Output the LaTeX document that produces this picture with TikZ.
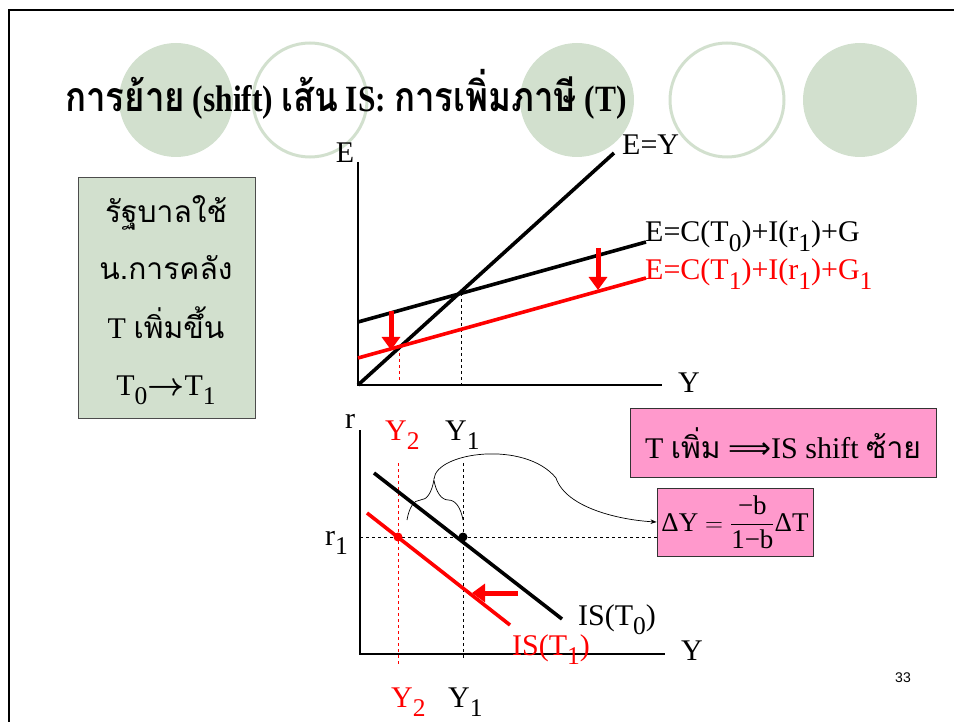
\documentclass[tikz,border=0pt]{standalone}
\usepackage{fontspec}
\usepackage{amsmath}
\usepackage{graphicx}
\setmainfont{Liberation Serif}
\newfontfamily\thaifont[Script=Thai]{Loma}
\newfontfamily\pagefont{Liberation Sans}
\newfontfamily\arrowfont{DejaVu Sans}
\usetikzlibrary{arrows.meta, positioning, decorations.pathreplacing}
\definecolor{sagebg}  {RGB}{210, 224, 206}
\definecolor{pinkbg}  {RGB}{255, 153, 204}
\definecolor{shiftred}{RGB}{255,   0,   0}
\newcommand{\lowsub}[1]{\raisebox{-0.33em}{\scalebox{0.85}{#1}}}

\begin{document}
\begin{tikzpicture}[x=1pt, y=-1pt, >=Stealth,
  deco/.style={circle, minimum size=114pt, inner sep=0pt},
  axis/.style={line width=1.2pt},
  curve/.style={line width=3.6pt},
  guide/.style={line width=0.8pt, dash pattern=on 3pt off 3pt},
  shiftarrow/.style={-{Triangle[length=13pt, width=18pt]}, line width=5pt, color=shiftred},
  lbl/.style={font=\fontsize{30}{32}\selectfont, inner sep=0pt},
  boxline/.style={font=\fontsize{30}{32}\selectfont, inner sep=0pt, anchor=base},
  infobox/.style={draw=black!80, line width=0.8pt, fill=pinkbg, inner sep=2pt}
]
  \useasboundingbox (0,0) rectangle (954,722);

  % Slide frame and circles
  \node[deco, fill=sagebg] (c1) at (176,100) {};
  \node[deco, draw=sagebg, line width=3pt] (c2) at (310,100) {};
  \node[deco, fill=sagebg] (c3) at (577,100) {};
  \node[deco, draw=sagebg, line width=3pt] (c4) at (727,100) {};
  \node[deco, fill=sagebg] (c5) at (860,100) {};
  \draw[line width=2.5pt] (956,10) -- (9,10) -- (9,724);

  % Title
  \node[anchor=base west, inner sep=0pt, font=\bfseries\fontsize{37}{40}\selectfont] (title) at (65,112)
    {\scalebox{0.85}[1]{{\thaifont\fontsize{41}{44}\selectfont การย้าย} (shift) {\thaifont\fontsize{41}{44}\selectfont เส้น} IS: {\thaifont\fontsize{41}{44}\selectfont การเพิ่มภาษี} (T)}};

  % Left box
  \node[draw=black!70, fill=sagebg, minimum width=177pt, minimum height=241pt, anchor=north west] (govbox) at (78,177) {};
  \node[boxline] (gov1) at (166,223) {\thaifont รัฐบาลใช้};
  \node[boxline] (gov2) at (166,280) {\thaifont น.การคลัง};
  \node[boxline] (gov3) at (166,338) {T {\thaifont เพิ่มขึ้น}};
  \node[boxline] (gov4) at (166,395) {T\lowsub{0}\scalebox{1.3}{\boldmath$\rightarrow$}T\lowsub{1}};

  % Upper graph: E against Y
  \coordinate (eo) at (358,385);
  \coordinate (etop) at (358,162);
  \coordinate (eend) at (662,385);
  \draw[axis] (etop) -- (eo) -- (eend);
  \node[lbl] (elab) at (345,153) {E};
  \node[lbl] (eylab) at (689,383) {Y};

  \coordinate (diag) at (614,153);
  \coordinate (ae0a) at (358,322);
  \coordinate (ae0b) at (646,242);
  \coordinate (ae1a) at (358,358);
  \coordinate (ae1b) at (646,278);
  \coordinate (eq0) at (461,293);
  \coordinate (eq1) at (399,347);
  \draw[guide] (eq0) -- (eq0 |- eo);
  \draw[guide, shiftred] (eq1) -- ([yshift=5pt]eq1 |- eo);
  \draw[curve] (eo) -- (diag);
  \draw[curve] (ae0a) -- (ae0b);
  \draw[curve, shiftred] (ae1a) -- (ae1b);
  \node[lbl, anchor=west] (diaglab) at (622,145) {E=Y};
  \node[lbl, anchor=base west] (ae0lab) at (645,242) {E=C(T\lowsub{0})+I(r\lowsub{1})+G};
  \node[lbl, anchor=base west, shiftred] (ae1lab) at (645,280) {E=C(T\lowsub{1})+I(r\lowsub{1})+G\lowsub{1}};
  \coordinate (dropa) at (391,311);
  \coordinate (dropb) at (598,248);
  \draw[shiftarrow] (dropa) -- ++(0,39);
  \draw[shiftarrow] (dropb) -- ++(0,42);

  % Lower graph: r against Y
  \coordinate (ro) at (360,654);
  \coordinate (rtop) at (360,430);
  \coordinate (rend) at (665,654);
  \draw[axis] (rtop) -- (ro) -- (rend);
  \node[lbl, anchor=base] (rlab) at (350,428) {r};
  \node[lbl, anchor=base west] (rylab) at (681,660) {Y};
  \node[lbl, anchor=base west] (r1lab) at (325,545) {r\lowsub{1}};

  \node[lbl, anchor=base west, shiftred] (y2top) at (385,440) {Y\lowsub{2}};
  \node[lbl, anchor=base west] (y1top) at (445,440) {Y\lowsub{1}};
  \node[lbl, anchor=base west, shiftred] (y2bot) at (391,707) {Y\lowsub{2}};
  \node[lbl, anchor=base west] (y1bot) at (448,707) {Y\lowsub{1}};

  % Boxes
  \node[infobox, minimum width=306pt, minimum height=69pt, font=\fontsize{30}{32}\selectfont] (rulebox) at (783,443)
    {T {\thaifont เพิ่ม} {\arrowfont ⟹}IS shift {\thaifont ซ้าย}};
  \node[infobox, minimum width=156pt, minimum height=68pt, inner sep=1pt, font=\fontsize{27}{29}\selectfont] (dybox) at (735,522)
    {$\text{ΔY} = \dfrac{\text{−b}}{\text{1−b}}\text{ΔT}$};

  \coordinate (y2line) at (398,463);
  \coordinate (y1line) at (463,463);
  \draw[guide, shiftred] (y2line) -- (398,665);
  \draw[guide] (y1line) -- (463,660);
  \draw[guide] (ro |- 0,537) -- (dybox.west |- 0,537);

  \coordinate (is0a) at (374,473);
  \coordinate (is0b) at (562,619);
  \coordinate (is1a) at (367,513);
  \coordinate (is1b) at (510,625);
  \draw[curve] (is0a) -- (is0b);
  \draw[curve, shiftred] (is1a) -- (is1b);
  \fill (463,537) circle (4.5pt);
  \fill[shiftred] (398,537) circle (4.5pt);
  \node[lbl, anchor=base west] (is0lab) at (578,625) {IS(T\lowsub{0})};
  \node[lbl, anchor=base west, shiftred] (is1lab) at (512,655) {IS(T\lowsub{1})};
  \coordinate (leftstart) at (518,593);
  \draw[shiftarrow] (leftstart) -- ++(-46,0);

  % Brace and link to the formula
  \coordinate (brl) at (407,520);
  \coordinate (brr) at (463,520);
  \coordinate (brtip) at (434,479);
  \draw[line width=0.7pt, decorate, decoration={brace, amplitude=40pt, aspect=0.48}] (brl) -- (brr);
  \draw[->, line width=0.7pt] (brtip) .. controls (436,452) and (525,440) .. (556,478)
    .. controls (566,508) and (620,520) .. (dybox.west);

  \node[font=\pagefont\fontsize{14}{16}\selectfont, inner sep=0pt] (pagenum) at (903,678) {33};
\end{tikzpicture}
\end{document}
